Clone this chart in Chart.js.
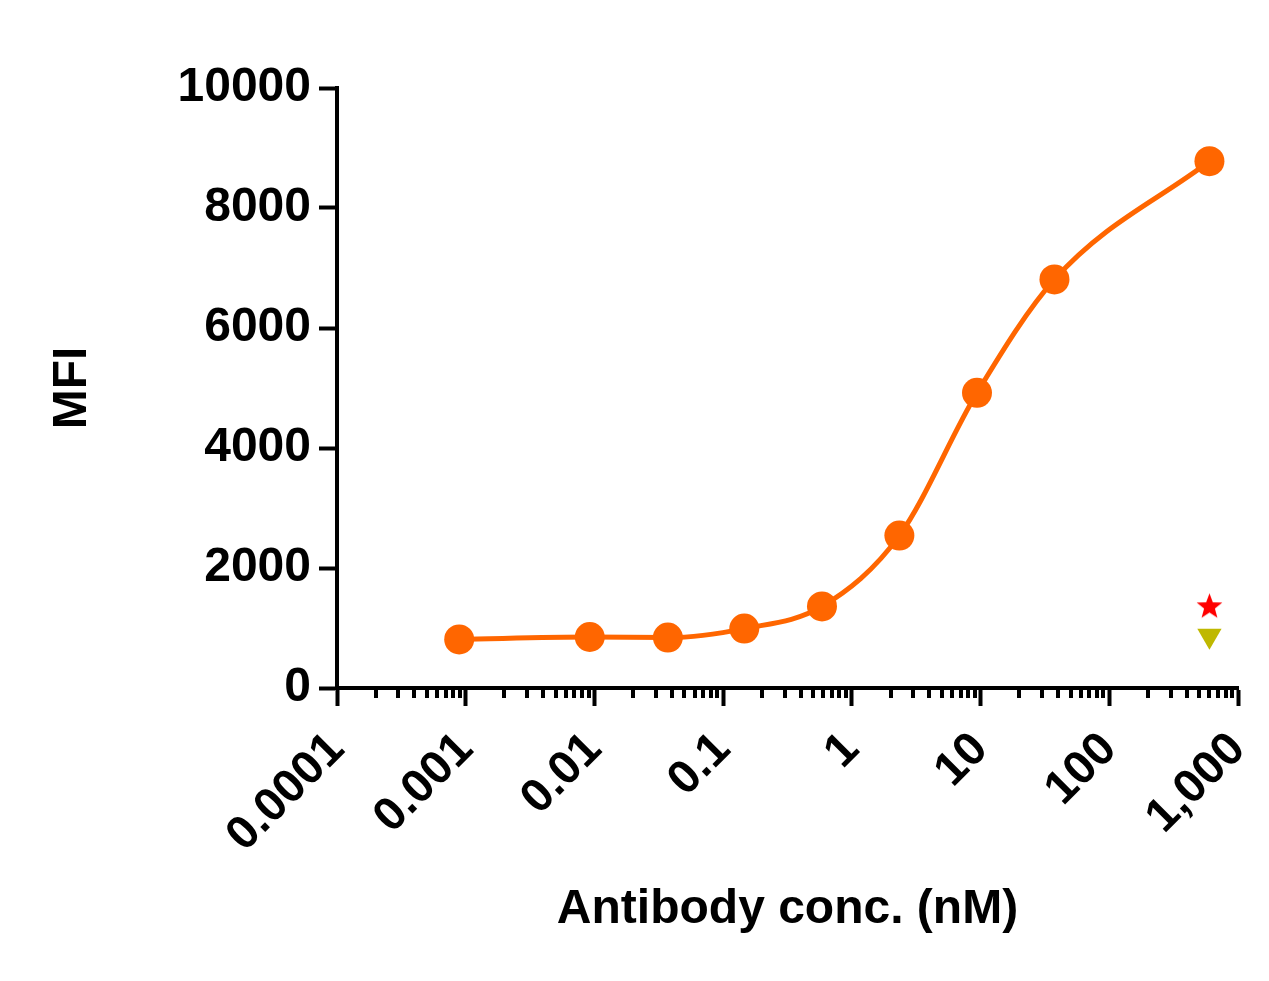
<!DOCTYPE html>
<html>
<head>
<meta charset="utf-8">
<script src="https://cdn.jsdelivr.net/npm/chart.js@4/dist/chart.umd.min.js"></script>
<style>
  html, body { margin: 0; padding: 0; background: #fff; }
  canvas { display: block; }
</style>
</head>
<body>
<canvas id="chart" width="1269" height="981"></canvas>
<script>
// antibody titration, MFI vs concentration (nM)
const conc = [0.00089, 0.0092, 0.0372, 0.146, 0.586, 2.34, 9.38, 37.5, 600];
const mfi = [810, 850, 840, 990, 1360, 2540, 4920, 6810, 8780];

// controls plotted at the top concentration
const ctrlStar = [{ x: 600, y: 1370 }];
const ctrlTriangle = [{ x: 600, y: 870 }];

const xMajorTicks = [0.0001, 0.001, 0.01, 0.1, 1, 10, 100, 1000];
const xMajorLabels = ['0.0001', '0.001', '0.01', '0.1', '1', '10', '100', '1,000'];
const xMinorSteps = [2, 3, 4, 5, 6, 7, 8, 9];
const yTicks = [0, 2000, 4000, 6000, 8000, 10000];

const FONT = '"Liberation Sans", Arial, sans-serif';

function starCanvas(size, color) {
    const c = document.createElement('canvas');
    c.width = size; c.height = size;
    const g = c.getContext('2d');
    const cx = size / 2, cy = size / 2 + 1, ro = size / 2, ri = ro * 0.42;
    g.beginPath();
    for (let i = 0; i < 10; i++) {
        const r = i % 2 === 0 ? ro : ri;
        const a = -Math.PI / 2 + i * Math.PI / 5;
        g.lineTo(cx + r * Math.cos(a), cy + r * Math.sin(a));
    }
    g.closePath();
    g.fillStyle = color;
    g.fill();
    return c;
}

function buildXTicks() {
    const out = [];
    xMajorTicks.forEach((v, i) => {
        out.push({ value: v, major: true });
        if (i < xMajorTicks.length - 1) {
            xMinorSteps.forEach(s => out.push({ value: v * s, major: false }));
        }
    });
    return out;
}

// short minor ticks on the log axis
const minorTicks = {
    id: 'minorTicks',
    afterDraw(chart) {
        const sc = chart.scales.x;
        const ctx = chart.ctx;
        ctx.save();
        ctx.strokeStyle = '#000';
        ctx.lineWidth = 4;
        sc.ticks.forEach(t => {
            if (t.major) return;
            const px = Math.round(sc.getPixelForValue(t.value));
            ctx.beginPath();
            ctx.moveTo(px, sc.top);
            ctx.lineTo(px, sc.top + 10);
            ctx.stroke();
        });
        ctx.restore();
    }
};

const ctx = document.getElementById('chart').getContext('2d');
new Chart(ctx, {
    type: 'scatter',
    data: {
        datasets: [
            {
                data: conc.map((c, i) => ({ x: c, y: mfi[i] })),
                showLine: true,
                cubicInterpolationMode: 'monotone',
                borderColor: '#ff6600',
                backgroundColor: '#ff6600',
                borderWidth: 5,
                pointRadius: 15,
                pointBorderWidth: 0,
                pointHoverRadius: 15,
                clip: false
            },
            {
                data: ctrlStar,
                pointStyle: starCanvas(27, '#ff0000'),
                pointRadius: 13,
                clip: false
            },
            {
                data: ctrlTriangle,
                pointStyle: 'triangle',
                rotation: 180,
                pointRadius: 14,
                backgroundColor: '#bfb800',
                borderColor: '#bfb800',
                borderWidth: 0,
                clip: false
            }
        ]
    },
    options: {
        responsive: false,
        animation: false,
        devicePixelRatio: 1,
        layout: { padding: { left: 0, top: 88, right: 31, bottom: 0 } },
        plugins: { legend: { display: false }, tooltip: { enabled: false } },
        scales: {
            x: {
                type: 'logarithmic',
                min: 0.0001,
                max: 1000,
                afterBuildTicks: sc => { sc.ticks = buildXTicks(); },
                afterFit: sc => {
                    sc.height = 293;
                    sc.paddingLeft = 0;
                    sc.paddingRight = 0;
                },
                border: { display: true, color: '#000', width: 4 },
                grid: {
                    drawOnChartArea: false,
                    drawTicks: true,
                    tickLength: 18,
                    tickWidth: 4,
                    tickColor: c => (c.tick && c.tick.major ? '#000' : 'rgba(0,0,0,0)')
                },
                ticks: {
                    autoSkip: false,
                    minRotation: 45,
                    maxRotation: 45,
                    padding: 16,
                    color: '#000',
                    font: { family: FONT, size: 47, weight: 'bold' },
                    callback: v => {
                        const i = xMajorTicks.findIndex(m => Math.abs(m - v) / m < 1e-6);
                        return i >= 0 ? xMajorLabels[i] : '';
                    }
                },
                title: {
                    display: true,
                    text: 'Antibody conc. (nM)',
                    color: '#000',
                    font: { family: FONT, size: 48, weight: 'bold', lineHeight: 1.2 },
                    padding: { top: 0, bottom: 42 }
                }
            },
            y: {
                min: 0,
                max: 10000,
                afterBuildTicks: sc => { sc.ticks = yTicks.map(v => ({ value: v })); },
                afterFit: sc => { sc.width = 337; },
                border: { display: true, color: '#000', width: 4 },
                grid: {
                    drawOnChartArea: false,
                    drawTicks: true,
                    tickLength: 18,
                    tickWidth: 4,
                    tickColor: '#000'
                },
                ticks: {
                    padding: 8,
                    color: '#000',
                    font: { family: FONT, size: 48, weight: 'bold' },
                    callback: v => String(v)
                },
                title: {
                    display: true,
                    text: 'MFI',
                    color: '#000',
                    font: { family: FONT, size: 48, weight: 'bold', lineHeight: 1.2 },
                    padding: { top: 44, bottom: 0 }
                }
            }
        }
    },
    plugins: [minorTicks]
});
</script>
</body>
</html>
